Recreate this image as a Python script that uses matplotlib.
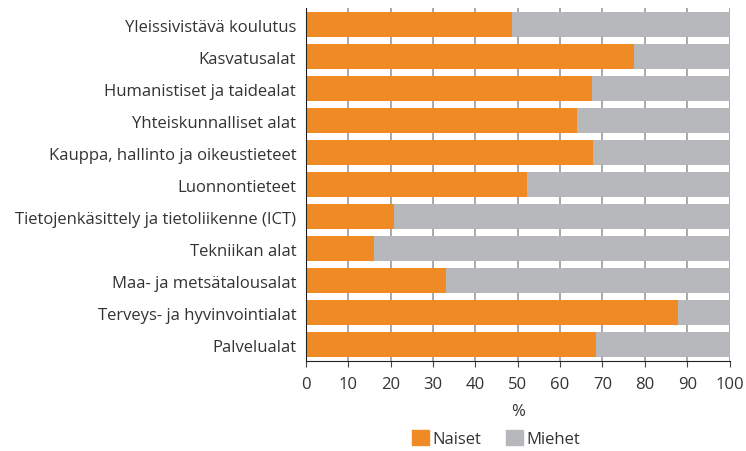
import matplotlib.pyplot as plt
from matplotlib.patches import Patch

plt.rcParams['font.family'] = ['Open Sans', 'DejaVu Sans']

categories = [
    "Yleissivistävä koulutus",
    "Kasvatusalat",
    "Humanistiset ja taidealat",
    "Yhteiskunnalliset alat",
    "Kauppa, hallinto ja oikeustieteet",
    "Luonnontieteet",
    "Tietojenkäsittely ja tietoliikenne (ICT)",
    "Tekniikan alat",
    "Maa- ja metsätalousalat",
    "Terveys- ja hyvinvointialat",
    "Palvelualat",
]
naiset = [48.7, 77.4, 67.5, 64.0, 67.8, 52.2, 20.8, 16.1, 33.1, 87.8, 68.4]
miehet = [100 - v for v in naiset]
xticks = list(range(0, 101, 10))

orange = "#F08A24"
grey = "#B7B8BB"
text_col = "#333333"
fs = 12

fig = plt.figure(figsize=(7.46, 4.52), dpi=100)
ax = fig.add_axes([0.41, 0.199, 0.568, 0.781])

y = list(range(len(categories)))
ax.barh(y, naiset, height=0.78, color=orange, zorder=2)
ax.barh(y, miehet, left=naiset, height=0.78, color=grey, zorder=2)

ax.set_ylim(len(categories) - 0.5 + 0.016, -0.516)
ax.set_xlim(0, 100)
ax.set_yticks(y)
ax.set_yticklabels(categories, fontsize=fs, color=text_col)
ax.tick_params(axis="y", length=0, pad=7)
ax.set_xticks(xticks)
ax.set_xticklabels([str(t) for t in xticks], fontsize=fs, color=text_col)
ax.tick_params(axis="x", length=4, width=0.8, color="#444444", pad=7)
ax.xaxis.grid(True, color="#999999", linewidth=1.2, zorder=0)
ax.set_axisbelow(True)

for side in ("top", "right"):
    ax.spines[side].set_visible(False)
ax.spines["left"].set_color("#222222")
ax.spines["bottom"].set_color("#222222")
ax.spines["left"].set_zorder(3)

ax.set_xlabel("%", fontsize=fs, color=text_col, labelpad=8)

handles = [Patch(color=orange, label="Naiset"), Patch(color=grey, label="Miehet")]
fig.legend(handles=handles, loc="center", bbox_to_anchor=(0.665, 0.027), ncol=2,
           frameon=False, fontsize=fs, handlelength=1.0, handleheight=1.0,
           handletextpad=0.2, columnspacing=1.5, labelcolor=text_col)

fig.savefig("out.png", dpi=100)
